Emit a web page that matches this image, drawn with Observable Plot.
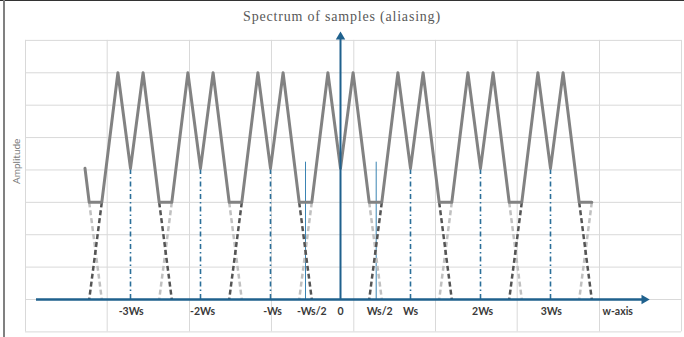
<!DOCTYPE html>
<html><head><meta charset="utf-8">
<script src="https://cdn.jsdelivr.net/npm/d3@7"></script>
<script src="https://cdn.jsdelivr.net/npm/@observablehq/plot@0.6"></script>
<style>
html,body{margin:0;padding:0;background:#fff;}
#wrap{position:relative;width:684px;height:337px;overflow:hidden;}
#topline{position:absolute;left:0;top:0;width:684px;height:1px;background:#333;}
#bar{position:absolute;left:3px;top:0;width:2px;height:337px;background:#808080;}
#title{position:absolute;left:0;top:9px;width:684px;height:16px;line-height:16px;text-align:center;
  font-family:"Liberation Serif","DejaVu Serif",serif;font-size:14px;letter-spacing:0.8px;color:#595959;}
#chart{position:absolute;left:0;top:30px;}
</style></head>
<body>
<div id="wrap">
  <div id="chart"></div>
  <div id="title">Spectrum of samples (aliasing)</div>
  <div id="topline"></div>
  <div id="bar"></div>
</div>
<script>
// ---- data (x in units of Ws, y in amplitude units) ----
const curveX = [-3.65,-3.59,-3.41,-3.18,-3.0,-2.82,-2.59,-2.41,-2.18,-2.0,-1.82,-1.59,-1.41,-1.18,-1.0,-0.82,-0.59,-0.41,-0.18,0,0.18,0.41,0.59,0.82,1.0,1.18,1.41,1.59,1.82,2.0,2.18,2.41,2.59,2.82,3.0,3.18,3.41,3.59];
const curveY = [4.05,3,3,7,4.05,7,3,3,7,4.05,7,3,3,7,4.05,7,3,3,7,4.05,7,3,3,7,4.05,7,3,3,7,4.05,7,3,3,7,4.05,7,3,3];

// dashed continuations [x1, y1, x2, y2]
const darkDash = [
  [-3.41,3,-3.59,0], [-2.59,3,-2.41,0],
  [-1.41,3,-1.59,0], [-0.59,3,-0.41,0],
  [0.59,3,0.41,0],   [1.41,3,1.59,0],
  [2.59,3,2.41,0],   [3.41,3,3.59,0]
];
const lightDash = [
  [-3.59,3,-3.41,0], [-2.41,3,-2.59,0],
  [-1.59,3,-1.41,0], [-0.41,3,-0.59,0],
  [0.41,3,0.59,0],   [1.59,3,1.41,0],
  [2.41,3,2.59,0],   [3.59,3,3.41,0]
];

const wsMultiples = [-3,-2,-1,1,2,3];
const wsTop = 4.05;
const halfWs = [-0.5, 0.51];
const halfTop = 4.24;

const tickLabels = ["-3Ws","-2Ws","-Ws","-Ws/2","0","Ws/2","Ws","2Ws","3Ws","w-axis"];
const tickPos    = [-2.99,-1.97,-0.97,-0.41,0,0.56,1.0,2.03,3.01,3.96];
const labelRow = -0.37;

const gridX = [-4.5,-3.333,-2.157,-0.986,0.19,1.357,2.524,3.7,4.871];
const gridY = [-1,0,1,2,3,4,5,6,7,8];

const axisXEnds = [-4.343, 4.33];
const axisYTop = 8.1;
const arrowRight = 4.339;
const arrowUp = 8.11;

const blue = "#1f618d";

const curve = curveX.map((x,i)=>({x, y: curveY[i]}));
const seg = a => a.map(([x1,y1,x2,y2])=>({x1,y1,x2,y2}));
const ticks = tickLabels.map((t,i)=>({t, x: tickPos[i]}));

const chart = Plot.plot({
  width: 684, height: 307, margin: 0,
  x: {domain: [-5,5], range: [-10,690], axis: null},
  y: {domain: [-1,8], range: [301.4, 9.9], axis: null},
  style: {background: "transparent", overflow: "visible"},
  marks: [
    Plot.ruleY(gridY, {x1: () => gridX[0], x2: () => gridX[gridX.length-1], stroke: "#d9d9d9", strokeWidth: 1}),
    Plot.ruleX(gridX, {y1: () => -1, y2: () => 8, stroke: "#d9d9d9", strokeWidth: 1}),
    Plot.ruleX(wsMultiples, {y1: () => 0, y2: () => wsTop, stroke: "#2b6f99", strokeWidth: 1.6, strokeDasharray: "5,3,1.5,3"}),
    Plot.ruleX(halfWs, {y1: () => 0, y2: () => halfTop, stroke: "#3b84b3", strokeWidth: 1}),
    Plot.link(seg(lightDash), {x1:"x1", y1:"y1", x2:"x2", y2:"y2", stroke: "#c0c0c0", strokeWidth: 2.5, strokeDasharray: "5,3"}),
    Plot.link(seg(darkDash), {x1:"x1", y1:"y1", x2:"x2", y2:"y2", stroke: "#555555", strokeWidth: 2.5, strokeDasharray: "5,3"}),
    Plot.line(curve, {x: "x", y: "y", stroke: "#828282", strokeWidth: 3, strokeLinejoin: "round"}),
    Plot.ruleY([0], {x1: () => axisXEnds[0], x2: () => axisXEnds[1], stroke: blue, strokeWidth: 2.5}),
    Plot.ruleX([0], {y1: () => 0, y2: () => axisYTop, stroke: blue, strokeWidth: 2}),
    Plot.dot([arrowRight], {x: d => d, y: () => 0, symbol: "triangle", r: 3.5, fill: blue, stroke: null, rotate: 90}),
    Plot.dot([arrowUp], {x: () => 0, y: d => d, symbol: "triangle", r: 3.5, fill: blue, stroke: null}),
    Plot.text(ticks, {x: "x", y: () => labelRow, text: "t", fontWeight: "bold", fontSize: 10.5, fill: "#3a3a3a", fontFamily: "Lato, 'Open Sans', sans-serif"}),
    Plot.text(["Amplitude"], {frameAnchor: "left", dx: 16, rotate: -90, text: d => d, fontSize: 10, fill: "#7a7a7a", fontFamily: "Lato, 'Open Sans', sans-serif"})
  ]
});
document.getElementById("chart").appendChild(chart);
</script>
</body></html>
